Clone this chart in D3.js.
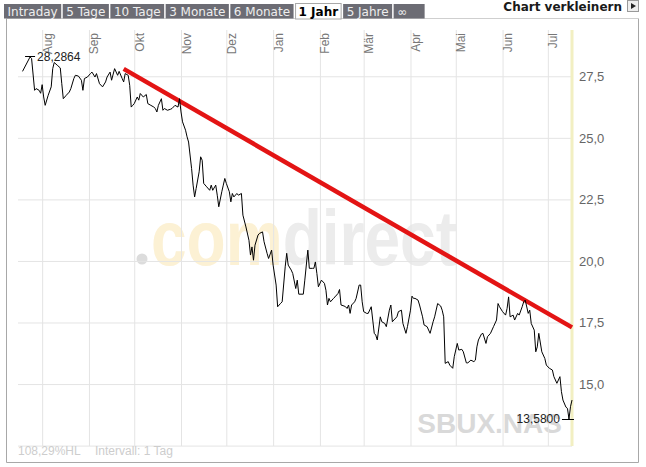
<!DOCTYPE html>
<html>
<head>
<meta charset="utf-8">
<title>SBUX.NAS - 1 Jahr</title>
<style>
  body { margin: 0; background: #fff; }
  svg { display: block; font-family: "Liberation Sans", Arial, sans-serif; }
  .tab text { font-family: "DejaVu Sans", Verdana, sans-serif; font-size: 12px; }
  .grid line { stroke: #e4e4e4; stroke-width: 1; }
  .grid .domain { display: none; }
  .ylab text { fill: #666; font-size: 13px; }
  .ylab .domain, .ylab line { display: none; }
  .month { fill: #777; font-size: 12px; }
  .price { fill: none; stroke: #000; stroke-width: 1; }
  .trend { stroke: #e31414; stroke-width: 4.5; stroke-linecap: butt; }
  .mark { stroke: #000; stroke-width: 1; }
  .marktext { fill: #222; font-size: 12px; }
  .foot { fill: #cdcdcd; font-size: 12px; }
</style>
<script src="https://cdn.jsdelivr.net/npm/d3@7"></script>
</head>
<body>
<script>
// --- data ---
var tabLabels = ["Intraday", "5 Tage", "10 Tage", "3 Monate", "6 Monate", "1 Jahr", "5 Jahre", "\u221e"];
var activeTab = "1 Jahr";
var monthNames = ["Jan", "Feb", "M\u00e4r", "Apr", "Mai", "Jun", "Jul", "Aug", "Sep", "Okt", "Nov", "Dez"];
var yTicks = [15, 17.5, 20, 22.5, 25, 27.5];
var gridValues = [12.5, 15, 17.5, 20, 22.5, 25, 27.5];
var startDate = "2007-07-16", endDate = "2008-07-17";

var dates = [
  "2007-07-19","2007-07-24","2007-07-25","2007-07-27","2007-07-28","2007-07-30","2007-07-31","2007-08-01","2007-08-02","2007-08-03",
  "2007-08-05","2007-08-07","2007-08-08","2007-08-09","2007-08-11","2007-08-13","2007-08-14","2007-08-15","2007-08-17","2007-08-19",
  "2007-08-20","2007-08-22","2007-08-23","2007-08-25","2007-08-27","2007-08-28","2007-08-29","2007-08-31","2007-09-02","2007-09-03",
  "2007-09-05","2007-09-06","2007-09-08","2007-09-10","2007-09-12","2007-09-13","2007-09-15","2007-09-16","2007-09-18","2007-09-20",
  "2007-09-21","2007-09-23","2007-09-24","2007-09-25","2007-09-27","2007-09-28","2007-09-29","2007-09-30","2007-10-01","2007-10-03",
  "2007-10-04","2007-10-05","2007-10-07","2007-10-09","2007-10-10","2007-10-12","2007-10-14","2007-10-15","2007-10-16","2007-10-17",
  "2007-10-19","2007-10-20","2007-10-21","2007-10-23","2007-10-25","2007-10-26","2007-10-28","2007-10-30","2007-10-31","2007-11-01",
  "2007-11-02","2007-11-04","2007-11-05","2007-11-06","2007-11-08","2007-11-09","2007-11-10","2007-11-11","2007-11-13","2007-11-14",
  "2007-11-15","2007-11-16","2007-11-18","2007-11-20","2007-11-21","2007-11-22","2007-11-24","2007-11-25","2007-11-26","2007-11-28",
  "2007-11-29","2007-11-30","2007-12-01","2007-12-03","2007-12-04","2007-12-05","2007-12-06","2007-12-08","2007-12-09","2007-12-11",
  "2007-12-12","2007-12-14","2007-12-16","2007-12-17","2007-12-18","2007-12-19","2007-12-20","2007-12-22","2007-12-23","2007-12-25",
  "2007-12-26","2007-12-28","2007-12-29","2007-12-31","2008-01-01","2008-01-03","2008-01-04","2008-01-06","2008-01-07","2008-01-09",
  "2008-01-10","2008-01-11","2008-01-13","2008-01-14","2008-01-16","2008-01-17","2008-01-18","2008-01-21","2008-01-22","2008-01-24",
  "2008-01-25","2008-01-27","2008-01-28","2008-01-29","2008-01-30","2008-01-31","2008-02-02","2008-02-04","2008-02-05","2008-02-06",
  "2008-02-07","2008-02-08","2008-02-10","2008-02-11","2008-02-13","2008-02-14","2008-02-15","2008-02-17","2008-02-18","2008-02-19",
  "2008-02-20","2008-02-21","2008-02-22","2008-02-24","2008-02-25","2008-02-27","2008-02-28","2008-02-29","2008-03-01","2008-03-03",
  "2008-03-04","2008-03-06","2008-03-07","2008-03-08","2008-03-09","2008-03-10","2008-03-12","2008-03-13","2008-03-15","2008-03-16",
  "2008-03-18","2008-03-19","2008-03-20","2008-03-21","2008-03-23","2008-03-24","2008-03-26","2008-03-27","2008-03-29","2008-03-30",
  "2008-04-01","2008-04-02","2008-04-03","2008-04-04","2008-04-06","2008-04-07","2008-04-09","2008-04-10","2008-04-12","2008-04-14",
  "2008-04-16","2008-04-17","2008-04-19","2008-04-21","2008-04-22","2008-04-23","2008-04-24","2008-04-26","2008-04-27","2008-04-29",
  "2008-04-30","2008-05-02","2008-05-03","2008-05-05","2008-05-06","2008-05-08","2008-05-09","2008-05-11","2008-05-13","2008-05-14",
  "2008-05-15","2008-05-16","2008-05-18","2008-05-19","2008-05-21","2008-05-22","2008-05-24","2008-05-26","2008-05-28","2008-05-29",
  "2008-05-30","2008-06-01","2008-06-03","2008-06-04","2008-06-05","2008-06-06","2008-06-08","2008-06-09","2008-06-11","2008-06-12",
  "2008-06-14","2008-06-15","2008-06-16","2008-06-18","2008-06-19","2008-06-20","2008-06-22","2008-06-23","2008-06-24","2008-06-25",
  "2008-06-27","2008-06-29","2008-06-30","2008-07-02","2008-07-04","2008-07-05","2008-07-07","2008-07-09","2008-07-10","2008-07-11",
  "2008-07-13","2008-07-14","2008-07-15","2008-07-16","2008-07-17"
];
var closes = [
  27.70,28.2864,28.22,26.93,27.00,26.93,26.81,27.16,26.66,26.32,
  26.73,27.07,27.81,28.06,27.95,27.84,27.20,26.59,26.73,26.86,
  27.00,27.41,27.54,27.51,27.34,26.93,27.41,27.47,27.61,27.67,
  27.47,27.61,27.20,27.07,27.27,27.47,27.67,27.34,27.81,27.54,
  27.70,27.41,27.27,27.61,27.54,27.13,26.25,26.32,26.39,26.66,
  26.53,26.80,26.66,26.76,26.39,26.32,26.25,26.19,26.05,26.32,
  26.59,26.12,26.19,26.12,26.16,26.19,26.32,26.25,26.59,26.05,
  25.65,25.31,25.04,24.83,23.75,23.08,22.60,22.94,23.62,24.23,
  24.09,23.15,23.01,22.87,23.08,22.87,23.08,22.67,22.20,22.81,
  23.08,23.35,23.15,22.81,22.40,22.74,22.60,22.74,22.67,22.74,
  21.86,21.38,20.84,20.24,20.57,20.03,20.64,21.05,21.12,21.18,
  20.78,20.31,20.10,20.44,19.83,19.02,18.14,18.28,18.34,19.76,
  20.31,19.83,19.63,19.49,18.88,19.22,18.65,18.65,19.22,20.44,
  19.70,19.70,19.70,19.96,19.49,18.95,19.22,19.09,18.81,18.21,
  18.48,18.34,18.48,18.54,18.68,18.84,18.21,18.17,18.14,18.07,
  18.21,17.87,18.21,18.34,18.48,19.02,19.02,18.34,17.94,17.87,
  17.87,18.14,17.60,17.06,16.99,16.79,17.73,17.53,17.46,17.33,
  18.00,18.21,17.53,17.60,17.73,17.94,18.00,17.46,17.06,17.33,
  18.00,18.57,18.48,18.48,18.41,18.21,17.73,17.40,17.33,17.06,
  17.53,17.73,18.27,18.17,18.00,17.73,15.84,15.91,15.77,15.64,
  16.11,16.65,16.38,16.41,16.31,15.86,15.86,15.97,15.91,15.97,
  16.51,16.79,17.03,17.06,16.65,16.92,17.06,17.33,17.60,18.27,
  18.14,17.94,17.80,18.07,18.54,17.73,17.80,17.60,17.87,17.80,
  18.14,18.34,18.41,17.87,18.00,17.46,17.19,16.31,16.51,17.06,
  16.31,16.04,15.77,15.64,15.57,15.30,15.03,15.30,14.69,14.35,
  14.06,14.01,13.58,14.08,14.35
];
// hand-drawn resistance line
var trendDates = ["2007-09-24", "2008-07-17"];
var trendValues = [27.80, 17.30];

var symbol = "SBUX.NAS";
var perfText = "108,29%HL";
var intervalText = "Intervall: 1 Tag";
var shrinkText = "Chart verkleinern";

// --- layout ---
var width = 646, height = 467;
var plot = {left: 18, right: 572, top: 30, bottom: 446};

var parse = d3.timeParse("%Y-%m-%d");
var series = dates.map(function (d, i) { return {date: parse(d), value: closes[i]}; });

var de = d3.formatLocale({decimal: ",", thousands: ".", grouping: [3], currency: ["", " \u20ac"]});

var x = d3.scaleTime()
  .domain([parse(startDate), parse(endDate)])
  .range([plot.left, plot.right]);
var y = d3.scaleLinear()
  .domain([12.5, 29.38])
  .range([plot.bottom - 0.4, plot.top]);

var svg = d3.select("body").append("svg")
  .attr("width", width).attr("height", height);

// frame
svg.append("path")
  .attr("d", "M6.5,18.5V462.5H638.5V18.5")
  .attr("fill", "none").attr("stroke", "#a8a8a8");
svg.append("line")
  .attr("x1", 6).attr("x2", 639).attr("y1", 18.5).attr("y2", 18.5)
  .attr("stroke", "#cfcfcf");

// tabs
var tabs = svg.append("g").attr("class", "tab");
var tx = 4;
tabLabels.forEach(function (lab) {
  var on = lab === activeTab;
  var g = tabs.append("g");
  var r = g.append("rect").attr("y", on ? 3.5 : 4).attr("height", on ? 15.5 : 14.5)
    .attr("fill", on ? "#fff" : "#6c6c74")
    .attr("stroke", on ? "#a8a8a8" : "none");
  var t = g.append("text").attr("y", 15.5).text(lab)
    .attr("fill", on ? "#000" : "#eeeeee")
    .attr("font-weight", on ? "bold" : "normal");
  var w = t.node().getComputedTextLength() + 7;
  if (lab === "\u221e") w += 14;
  r.attr("x", tx + (on ? 0.5 : 0)).attr("width", w - (on ? 1 : 0));
  t.attr("x", tx + 3.5);
  tx += w + 1.5;
});
svg.append("text").attr("x", 622).attr("y", 11).attr("text-anchor", "end")
  .attr("font-family", "'DejaVu Sans', Verdana, sans-serif")
  .attr("font-size", 12).attr("font-weight", "bold").attr("fill", "#1a1a1a")
  .text(shrinkText);
svg.append("rect").attr("x", 627.5).attr("y", 0.5).attr("width", 11).attr("height", 11)
  .attr("fill", "#eee").attr("stroke", "#999");
svg.append("path").attr("d", "M631,3L636,6L631,9Z").attr("fill", "#222");

// watermark
var wm = svg.append("text")
  .attr("x", 151).attr("y", 265)
  .attr("font-family", "'Liberation Sans Narrow', 'Liberation Sans', Arial, sans-serif")
  .attr("font-weight", "bold").attr("font-size", 78)
  .attr("textLength", 306).attr("lengthAdjust", "spacingAndGlyphs");
wm.append("tspan").attr("fill", "#fcf1d4").text("com");
wm.append("tspan").attr("fill", "#ececec").text("direct");
svg.append("circle").attr("cx", 142).attr("cy", 259).attr("r", 5.5).attr("fill", "#dcdcdc");
svg.append("text").attr("x", 562).attr("y", 433).attr("text-anchor", "end")
  .attr("font-weight", "bold").attr("font-size", 28).attr("fill", "#d9d9d9")
  .text(symbol);

// grid
svg.append("g").attr("class", "grid")
  .attr("transform", "translate(" + plot.right + ",0)")
  .call(d3.axisLeft(y).tickValues(gridValues).tickSize(plot.right - plot.left).tickFormat(""));
var months = d3.timeMonth.range(d3.timeMonth.ceil(x.domain()[0]), x.domain()[1]);
svg.append("g").attr("class", "grid")
  .attr("transform", "translate(0," + plot.top + ")")
  .call(d3.axisBottom(x).tickValues(months).tickSize(plot.bottom - plot.top).tickFormat(""));

// month labels
svg.append("g").selectAll("text").data(months).join("text")
  .attr("class", "month")
  .attr("transform", function (d) { return "translate(" + (x(d) + 9.5) + ",33) rotate(-90)"; })
  .attr("text-anchor", "end")
  .text(function (d) { return monthNames[d.getMonth()]; });

// current-day marker
svg.append("line")
  .attr("x1", x(parse(endDate))).attr("x2", x(parse(endDate)))
  .attr("y1", plot.top).attr("y2", plot.bottom)
  .attr("stroke", "#f2efc2").attr("stroke-width", 3);

// y labels
svg.append("g").attr("class", "ylab")
  .attr("transform", "translate(" + plot.right + ",0)")
  .call(d3.axisRight(y).tickValues(yTicks).tickSize(0).tickPadding(7).tickFormat(de.format(".1f")));

// trend line
svg.append("line").attr("class", "trend")
  .attr("x1", x(parse(trendDates[0]))).attr("y1", y(trendValues[0]))
  .attr("x2", x(parse(trendDates[1]))).attr("y2", y(trendValues[1]));

// price
var line = d3.line().x(function (d) { return x(d.date); }).y(function (d) { return y(d.value); });
svg.append("path").attr("class", "price").datum(series).attr("d", line);

// high / low markers
var hi = series.reduce(function (a, b) { return b.value > a.value ? b : a; });
var lo = series.reduce(function (a, b) { return b.value < a.value ? b : a; });
svg.append("line").attr("class", "mark")
  .attr("x1", x(hi.date) - 5).attr("x2", x(hi.date) + 5)
  .attr("y1", Math.round(y(hi.value)) - 0.5).attr("y2", Math.round(y(hi.value)) - 0.5);
svg.append("text").attr("class", "marktext")
  .attr("x", x(hi.date) + 7).attr("y", y(hi.value) + 4)
  .text(de.format(".4f")(hi.value));
svg.append("line").attr("class", "mark")
  .attr("x1", x(lo.date) - 7).attr("x2", x(lo.date) + 5)
  .attr("y1", Math.round(y(lo.value)) + 0.5).attr("y2", Math.round(y(lo.value)) + 0.5);
svg.append("text").attr("class", "marktext")
  .attr("x", x(lo.date) - 9).attr("y", y(lo.value) + 4).attr("text-anchor", "end")
  .text(de.format(".4f")(lo.value));

// footer
svg.append("text").attr("class", "foot").attr("x", 18).attr("y", 455).text(perfText);
svg.append("text").attr("class", "foot").attr("x", 95).attr("y", 455).text(intervalText);
</script>
</body>
</html>
